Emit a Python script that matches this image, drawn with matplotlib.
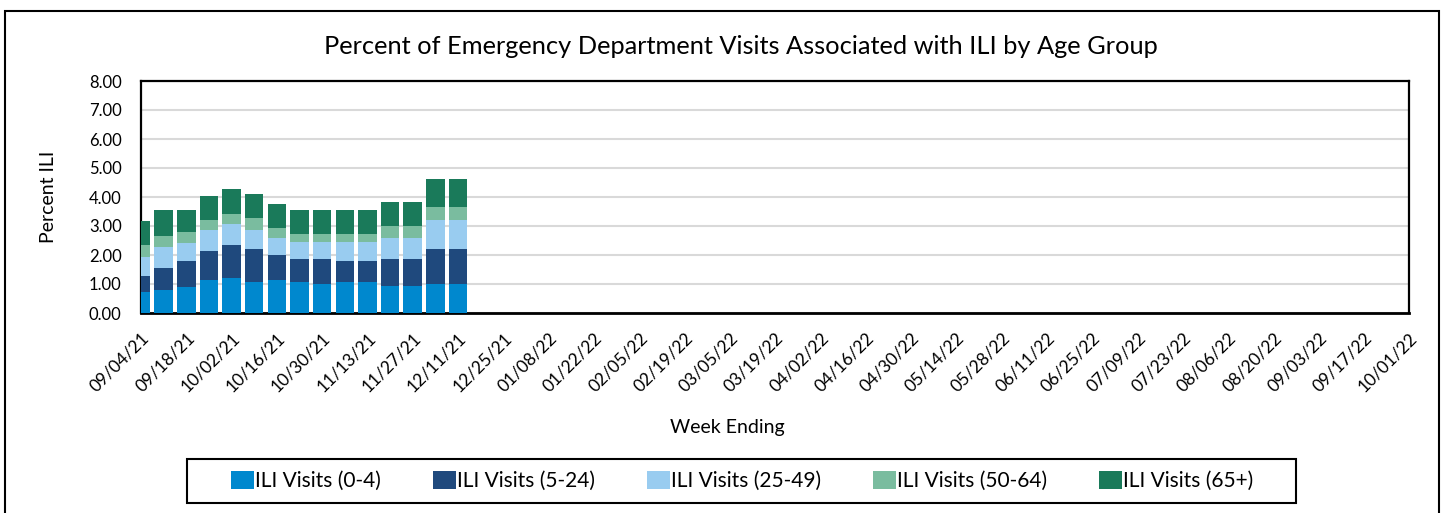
import matplotlib
matplotlib.use("Agg")
import matplotlib.pyplot as plt
import numpy as np
import pandas as pd
from matplotlib.patches import Rectangle

plt.rcParams['font.family'] = ['Lato', 'DejaVu Sans']

weeks = pd.date_range("2021-09-04", "2022-10-01", freq="7D")
week_labels = [d.strftime("%m/%d/%y") for d in weeks]

series_names = ["ILI Visits (0-4)", "ILI Visits (5-24)", "ILI Visits (25-49)",
                "ILI Visits (50-64)", "ILI Visits (65+)"]
ili_0_4 = [0.73, 0.81, 0.88, 1.14, 1.21, 1.08, 1.14, 1.06, 1.00, 1.06, 1.06, 0.93, 0.93, 1.00, 1.00]
ili_5_24 = [0.54, 0.73, 0.92, 1.00, 1.12, 1.13, 0.86, 0.80, 0.86, 0.74, 0.74, 0.93, 0.93, 1.20, 1.20]
ili_25_49 = [0.66, 0.74, 0.60, 0.73, 0.74, 0.66, 0.60, 0.60, 0.60, 0.66, 0.66, 0.74, 0.74, 0.99, 0.99]
ili_50_64 = [0.40, 0.39, 0.40, 0.33, 0.33, 0.40, 0.33, 0.28, 0.28, 0.28, 0.28, 0.40, 0.40, 0.46, 0.46]
ili_65 = [0.83, 0.89, 0.76, 0.82, 0.88, 0.82, 0.82, 0.82, 0.82, 0.82, 0.82, 0.82, 0.82, 0.96, 0.96]
colors = ["#0088CE", "#1F497D", "#99CCF0", "#7ABC9F", "#1A7A5A"]

series = [ili_0_4, ili_5_24, ili_25_49, ili_50_64, ili_65]

W, H = 1445, 513
fig = plt.figure(figsize=(W / 100, H / 100), dpi=100)
ax = fig.add_axes([141/W, 1-313/H, (1409-141)/W, (313-81)/H])

x = np.arange(len(series[0]))
bottom = np.zeros(len(x))
handles = []
for name, vals, c in zip(series_names, series, colors):
    vals = np.array(vals)
    b = ax.bar(x, vals, width=0.82, bottom=bottom, color=c, label=name, zorder=3)
    handles.append(b)
    bottom += vals

ax.set_xlim(0, len(weeks) - 1)
ax.set_ylim(0, 8)
yt = np.arange(0, 8.01, 1)
ax.set_yticks(yt)
ax.set_yticklabels([f"{v:.2f}" for v in yt], fontsize=12)
ax.yaxis.grid(True, color="#D9D9D9", linewidth=1.5, zorder=0)
ax.set_axisbelow(True)
tick_pos = np.arange(0, len(weeks), 2)
ax.set_xticks(tick_pos)
ax.set_xticklabels([week_labels[i] for i in tick_pos], rotation=45, ha="right",
                   rotation_mode="anchor", fontsize=12.5)
ax.tick_params(axis="y", length=0, pad=14)
ax.tick_params(axis="x", length=0, pad=12)
for s in ax.spines.values():
    s.set_color("black")
    s.set_linewidth(1.6)
ax.spines["bottom"].set_linewidth(2)

fig.text(741/W, 1-47/H, "Percent of Emergency Department Visits Associated with ILI by Age Group",
         ha="center", va="center", fontsize=18.3)
fig.text(727/W, 1-427/H, "Week Ending", ha="center", va="center", fontsize=14)
fig.text(48/W, 1-197/H, "Percent ILI", ha="center", va="center", rotation=90, fontsize=14)

leg = fig.legend(handles=handles, labels=series_names, loc="center",
                 bbox_to_anchor=(742/W, 1-481/H), ncol=5, fontsize=15,
                 frameon=False, handlelength=1.1, handleheight=1.0,
                 handletextpad=0.05, columnspacing=2.5, borderpad=0.3)

fig.patches.append(Rectangle((187/W, 1-503/H), (1296-187)/W, 44/H,
                             transform=fig.transFigure, fill=False,
                             edgecolor="black", linewidth=1.5))
fig.patches.append(Rectangle((5/W, -0.05), (1439-5)/W, 1.05 - 11/H,
                             transform=fig.transFigure, fill=False,
                             edgecolor="black", linewidth=1.5))

fig.savefig("out.png", dpi=100)
